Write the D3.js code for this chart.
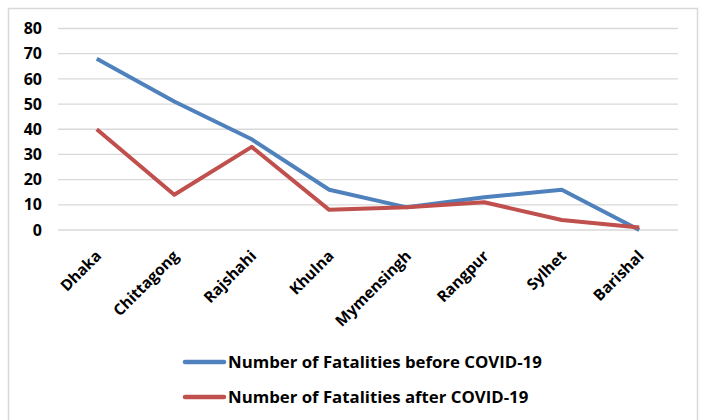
<!DOCTYPE html>
<html>
<head>
<meta charset="utf-8">
<script src="https://cdn.jsdelivr.net/npm/d3@7/dist/d3.min.js"></script>
<style>
  html, body { margin: 0; padding: 0; background: #fff; }
  svg { display: block; }
  text { font-family: "Open Sans", "Liberation Sans", sans-serif; font-weight: bold; fill: #000; }
</style>
</head>
<body>
<svg id="chart" width="704" height="420"></svg>
<script>
// Road fatalities by division, before and after COVID-19
const divisions = ["Dhaka", "Chittagong", "Rajshahi", "Khulna", "Mymensingh", "Rangpur", "Sylhet", "Barishal"];
const beforeCovid = [68, 51, 36, 16, 9, 13, 16, 0];
const afterCovid = [40, 14, 33, 8, 9, 11, 4, 1];
const yTicks = [0, 10, 20, 30, 40, 50, 60, 70, 80];
const seriesNames = ["Number of Fatalities before COVID-19", "Number of Fatalities after COVID-19"];
const seriesColors = ["#4F81BD", "#C0504D"];

const FONT = "'Open Sans', 'Liberation Sans', sans-serif";
const svg = d3.select("#chart");

// outer frame
svg.append("rect")
  .attr("x", 8.5).attr("y", 8.5)
  .attr("width", 689).attr("height", 430)
  .attr("fill", "none").attr("stroke", "#d9d9d9").attr("stroke-width", 1.5);

const plot = { left: 58, right: 678, top: 28.5, bottom: 230 };

const x = d3.scalePoint()
  .domain(divisions)
  .range([plot.left, plot.right])
  .padding(0.5);

const y = d3.scaleLinear()
  .domain([0, 80])
  .range([plot.bottom, plot.top]);

// horizontal gridlines
svg.append("g")
  .selectAll("line")
  .data(yTicks)
  .join("line")
  .attr("x1", plot.left).attr("x2", plot.right)
  .attr("y1", d => y(d)).attr("y2", d => y(d))
  .attr("stroke", "#d9d9d9").attr("stroke-width", 1.3);

// y axis labels
const yAxis = d3.axisLeft(y).tickValues(yTicks).tickSize(0).tickPadding(0);
const gy = svg.append("g")
  .attr("transform", `translate(${plot.left - 16},0)`)
  .call(yAxis);
gy.select(".domain").remove();
gy.selectAll("text")
  .style("font-size", "16px")
  .style("font-family", FONT)
  .style("font-weight", "bold")
  .attr("fill", "#000");

// x axis labels, rotated
const xAxis = d3.axisBottom(x).tickSize(0).tickPadding(0);
const gx = svg.append("g")
  .attr("transform", `translate(0,${plot.bottom})`)
  .call(xAxis);
gx.select(".domain").remove();
gx.selectAll("text")
  .style("font-size", "15.5px")
  .style("font-family", FONT)
  .style("font-weight", "bold")
  .attr("fill", "#000")
  .attr("text-anchor", "end")
  .attr("dy", 0)
  .attr("y", 0)
  .attr("transform", "translate(5,27) rotate(-45)");

// series lines
const line = d3.line()
  .x((d, i) => x(divisions[i]))
  .y(d => y(d));

[beforeCovid, afterCovid].forEach((vals, k) => {
  svg.append("path")
    .datum(vals)
    .attr("d", line)
    .attr("fill", "none")
    .attr("stroke", seriesColors[k])
    .attr("stroke-width", 4)
    .attr("stroke-linejoin", "round");
});

// legend
const legend = svg.append("g");
seriesNames.forEach((name, k) => {
  const ly = 362 + k * 35;
  legend.append("line")
    .attr("x1", 185).attr("x2", 224)
    .attr("y1", ly).attr("y2", ly)
    .attr("stroke", seriesColors[k]).attr("stroke-width", 4.5)
    .attr("stroke-linecap", "round");
  legend.append("text")
    .attr("x", 228).attr("y", ly)
    .attr("dy", "0.36em")
    .style("font-size", "16.8px")
    .text(name);
});
</script>
</body>
</html>
